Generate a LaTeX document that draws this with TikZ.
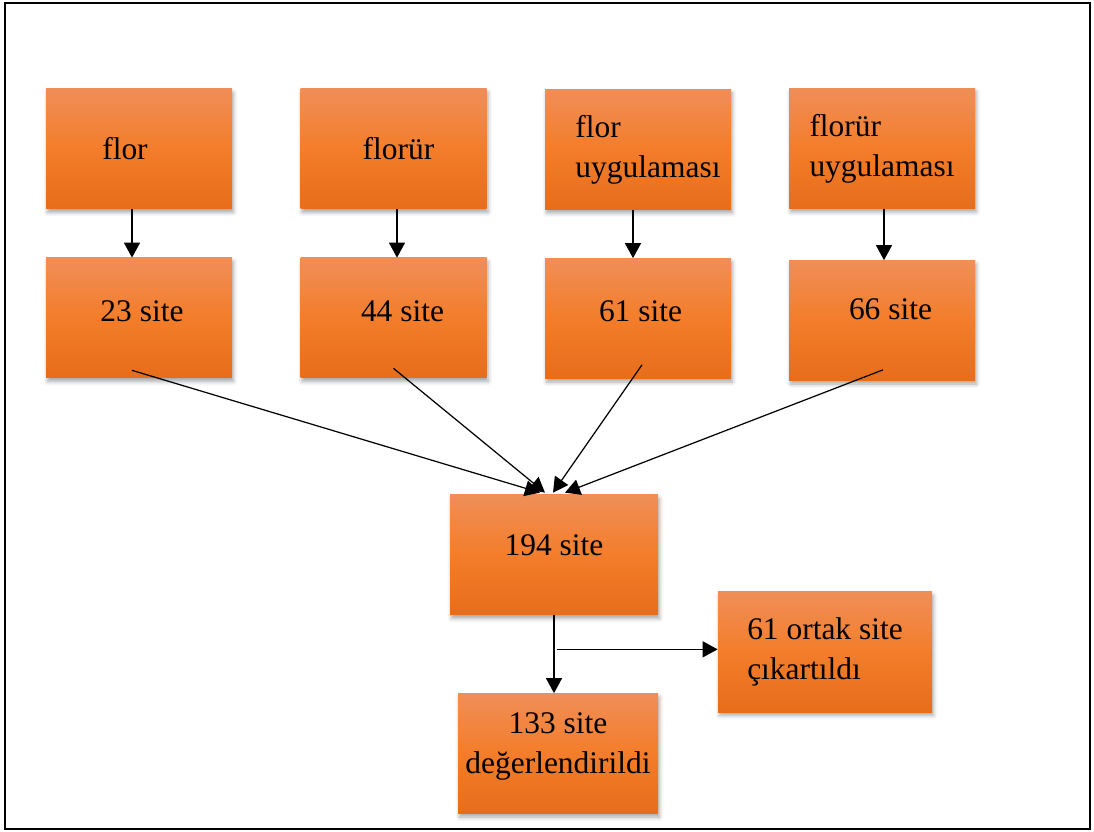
\documentclass[tikz,border=0pt]{standalone}
\usepackage{fontspec}
\setmainfont{Liberation Serif}
\usetikzlibrary{positioning, arrows.meta, shadows, shadows.blur}
\usepackage{xcolor}
\definecolor{boxTop}{RGB}{240,142,88}
\definecolor{boxMid}{RGB}{243,125,42}
\definecolor{boxBot}{RGB}{231,109,27}

\begin{document}
\begin{tikzpicture}[node distance=3.38cm, auto]
% Define styles
\tikzstyle{stage} = [rectangle, minimum width=3.72cm, minimum height=2.4cm, text centered, top color=boxTop, bottom color=boxBot, middle color=boxMid, blur shadow={shadow xshift=0.03cm, shadow yshift=-0.07cm, shadow blur radius=0.08cm, shadow opacity=35}, font=\fontsize{17.9}{22.8}\selectfont]
\tikzstyle{raised} = [text depth=0.28cm]
\tikzstyle{arrow} = [line width=0.7pt, -{Triangle[length=0.3cm, width=0.32cm]}]

% Page frame and margins
\useasboundingbox (0,0) rectangle (21.88,-16.64);
\draw [line width=1.1pt] (0.1,-0.06) rectangle (21.8,-16.58);

% Sources
\node (flor) [stage] at (2.78,-2.98) {flor\hspace*{0.56cm}};
\node (florur) [stage] at (7.87,-2.98) {\hspace*{0.2cm}florür};
\node (florUyg) [stage, align=left] at (12.76,-2.99) {\hspace*{0.4cm}flor\\\hspace*{0.4cm}uygulaması};
\node (florurUyg) [stage, align=left] at (17.64,-2.97) {florür\\uygulaması};

% Site counts
\node (t23) [stage, raised, below of=flor] {\hspace*{0.12cm}23 site};
\node (t44) [stage, raised, below of=florur] {\hspace*{0.36cm}44 site};
\node (t61) [stage, raised, below of=florUyg] {\hspace*{0.1cm}61 site};
\node (t66) [stage, raised, below of=florurUyg, yshift=-0.06cm, text depth=0.44cm] {\hspace*{0.34cm}66 site};

% Merging and result
\node (s194) [stage, minimum width=4.16cm, text depth=0.4cm] at (11.08,-11.1) {194 site};
\node (ortak) [stage, minimum width=4.28cm, align=left] at (16.5,-13.04) {61 ortak site\\çıkartıldı};
\node (s133) [stage, minimum width=4.0cm, align=center, text depth=0.42cm] at (11.16,-15.07) {133 site\\değerlendirildi};

% Source arrows
\draw [arrow] ([xshift=-0.14cm]flor.south) -- ([xshift=-0.14cm]t23.north);
\draw [arrow] ([xshift=0.07cm]florur.south) -- ([xshift=0.07cm]t44.north);
\draw [arrow] ([xshift=-0.1cm]florUyg.south) -- ([xshift=-0.1cm]t61.north);
\draw [arrow] ([xshift=0.04cm]florurUyg.south) -- ([xshift=0.04cm]t66.north);

% Merge arrows
\draw [arrow] ([xshift=-0.14cm, yshift=0.16cm]t23.south) -- ([xshift=-0.28cm, yshift=0.04cm]s194.north);
\draw [arrow] ([yshift=0.2cm]t44.south) -- ([xshift=-0.18cm, yshift=0.04cm]s194.north);
\draw [arrow] ([xshift=0.08cm, yshift=0.28cm]t61.south) -- ([xshift=-0.02cm, yshift=0.04cm]s194.north);
\draw [arrow] ([xshift=0.02cm, yshift=0.22cm]t66.south) -- ([xshift=0.22cm, yshift=0.04cm]s194.north);

% Split into removed and evaluated
\coordinate (split) at ([xshift=0.06cm, yshift=-0.68cm]s194.south);
\draw [arrow] (s194.south) -- (s194.south |- s133.north);
\draw [arrow] (split) -- (split -| ortak.west);

\end{tikzpicture}
\end{document}
